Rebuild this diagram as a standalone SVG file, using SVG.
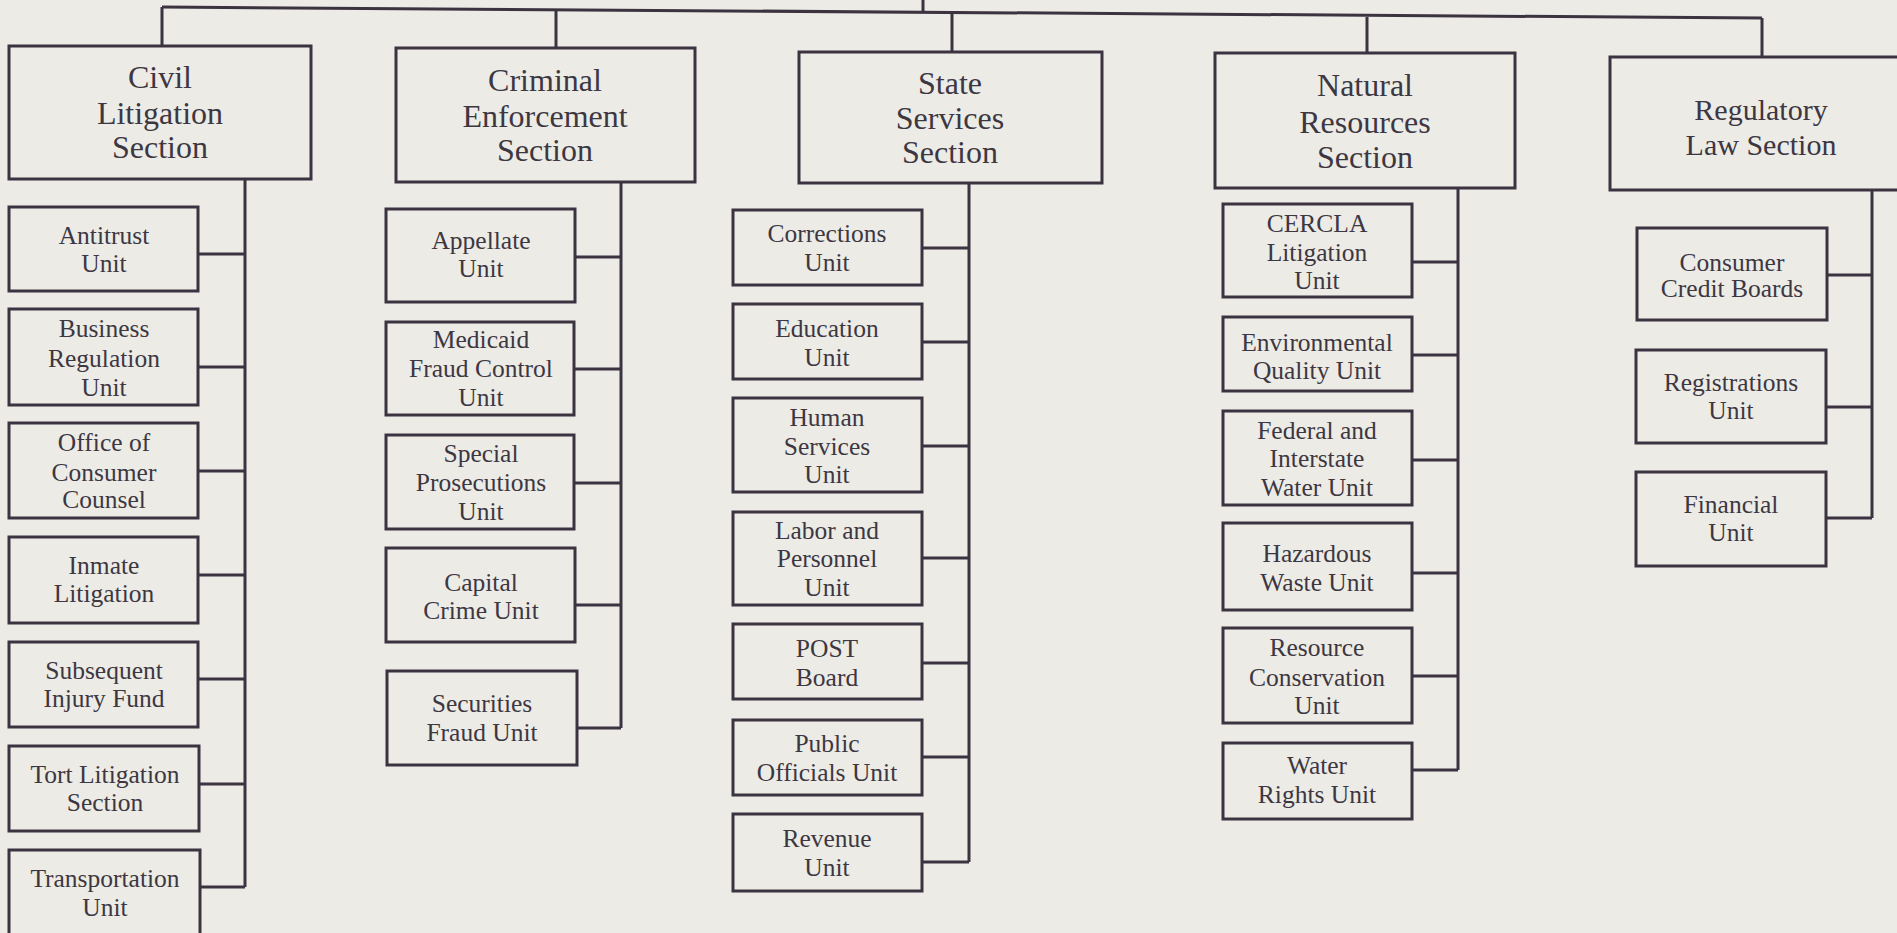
<svg xmlns="http://www.w3.org/2000/svg" width="1897" height="933" viewBox="0 0 1897 933">
<style>
.bg{fill:#ecebe6}
.box{fill:none;stroke:#3b3340;stroke-width:3}
.ln{fill:none;stroke:#3b3340;stroke-width:3}
text{font-family:"Liberation Serif","Times New Roman",serif;fill:#3d3742;text-anchor:middle}
.sec{font-size:32px}
.reg{font-size:30px}
.unit{font-size:25.5px}
</style>
<rect class="bg" x="0" y="0" width="1897" height="933"/>
<g id="connectors">
<path class="ln" d="M162,7 L1762,18"/>
<path class="ln" d="M923,0 V12"/>
<path class="ln" d="M162,7 V46"/>
<path class="ln" d="M556,10 V48"/>
<path class="ln" d="M952,13 V52"/>
<path class="ln" d="M1367,17 V53"/>
<path class="ln" d="M1762,18 V57"/>
<path class="ln" d="M245,179 V887 M198,254 H245 M198,367 H245 M198,471 H245 M198,575 H245 M198,679 H245 M198,784 H245 M200,887 H245"/>
<path class="ln" d="M621,182 V728 M575,257 H621 M574,369 H621 M574,483 H621 M575,605 H621 M577,728 H621"/>
<path class="ln" d="M969,183 V862 M922,248 H969 M922,342 H969 M922,446 H969 M922,558 H969 M922,663 H969 M922,757 H969 M922,862 H969"/>
<path class="ln" d="M1458,188 V770 M1412,262 H1458 M1412,355 H1458 M1412,460 H1458 M1412,573 H1458 M1412,676 H1458 M1412,770 H1458"/>
<path class="ln" d="M1872,190 V518 M1827,275 H1872 M1826,407 H1872 M1826,518 H1872"/>
</g>
<g id="civil"><rect class="box" x="9" y="46" width="302" height="133"/><text class="sec" x="160" y="88">Civil</text><text class="sec" x="160" y="124">Litigation</text><text class="sec" x="160" y="158">Section</text></g>
<g id="antitrust"><rect class="box" x="9" y="207" width="189" height="84"/><text class="unit" x="104" y="244">Antitrust</text><text class="unit" x="104" y="272">Unit</text></g>
<g id="business"><rect class="box" x="9" y="309" width="189" height="96"/><text class="unit" x="104" y="337">Business</text><text class="unit" x="104" y="367">Regulation</text><text class="unit" x="104" y="396">Unit</text></g>
<g id="office"><rect class="box" x="9" y="423" width="189" height="95"/><text class="unit" x="104" y="451">Office of</text><text class="unit" x="104" y="481">Consumer</text><text class="unit" x="104" y="508">Counsel</text></g>
<g id="inmate"><rect class="box" x="9" y="537" width="189" height="86"/><text class="unit" x="104" y="574">Inmate</text><text class="unit" x="104" y="602">Litigation</text></g>
<g id="subsequent"><rect class="box" x="9" y="642" width="189" height="85"/><text class="unit" x="104" y="679">Subsequent</text><text class="unit" x="104" y="707">Injury Fund</text></g>
<g id="tort"><rect class="box" x="9" y="746" width="190" height="85"/><text class="unit" x="105" y="783">Tort Litigation</text><text class="unit" x="105" y="811">Section</text></g>
<g id="transportation"><rect class="box" x="9" y="850" width="191" height="95"/><text class="unit" x="105" y="887">Transportation</text><text class="unit" x="105" y="916">Unit</text></g>
<g id="criminal"><rect class="box" x="396" y="48" width="299" height="134"/><text class="sec" x="545" y="91">Criminal</text><text class="sec" x="545" y="127">Enforcement</text><text class="sec" x="545" y="161">Section</text></g>
<g id="appellate"><rect class="box" x="386" y="209" width="189" height="93"/><text class="unit" x="481" y="249">Appellate</text><text class="unit" x="481" y="277">Unit</text></g>
<g id="medicaid"><rect class="box" x="386" y="322" width="188" height="93"/><text class="unit" x="481" y="348">Medicaid</text><text class="unit" x="481" y="377">Fraud Control</text><text class="unit" x="481" y="406">Unit</text></g>
<g id="special"><rect class="box" x="386" y="435" width="188" height="94"/><text class="unit" x="481" y="462">Special</text><text class="unit" x="481" y="491">Prosecutions</text><text class="unit" x="481" y="520">Unit</text></g>
<g id="capital"><rect class="box" x="386" y="548" width="189" height="94"/><text class="unit" x="481" y="591">Capital</text><text class="unit" x="481" y="619">Crime Unit</text></g>
<g id="securities"><rect class="box" x="387" y="671" width="190" height="94"/><text class="unit" x="482" y="712">Securities</text><text class="unit" x="482" y="741">Fraud Unit</text></g>
<g id="state"><rect class="box" x="799" y="52" width="303" height="131"/><text class="sec" x="950" y="94">State</text><text class="sec" x="950" y="129">Services</text><text class="sec" x="950" y="163">Section</text></g>
<g id="corrections"><rect class="box" x="733" y="210" width="189" height="75"/><text class="unit" x="827" y="242">Corrections</text><text class="unit" x="827" y="271">Unit</text></g>
<g id="education"><rect class="box" x="733" y="304" width="189" height="75"/><text class="unit" x="827" y="337">Education</text><text class="unit" x="827" y="366">Unit</text></g>
<g id="human"><rect class="box" x="733" y="398" width="189" height="94"/><text class="unit" x="827" y="426">Human</text><text class="unit" x="827" y="455">Services</text><text class="unit" x="827" y="483">Unit</text></g>
<g id="labor"><rect class="box" x="733" y="512" width="189" height="93"/><text class="unit" x="827" y="539">Labor and</text><text class="unit" x="827" y="567">Personnel</text><text class="unit" x="827" y="596">Unit</text></g>
<g id="post"><rect class="box" x="733" y="624" width="189" height="75"/><text class="unit" x="827" y="657">POST</text><text class="unit" x="827" y="686">Board</text></g>
<g id="public"><rect class="box" x="733" y="720" width="189" height="75"/><text class="unit" x="827" y="752">Public</text><text class="unit" x="827" y="781">Officials Unit</text></g>
<g id="revenue"><rect class="box" x="733" y="814" width="189" height="77"/><text class="unit" x="827" y="847">Revenue</text><text class="unit" x="827" y="876">Unit</text></g>
<g id="natural"><rect class="box" x="1215" y="53" width="300" height="135"/><text class="sec" x="1365" y="96">Natural</text><text class="sec" x="1365" y="133">Resources</text><text class="sec" x="1365" y="168">Section</text></g>
<g id="cercla"><rect class="box" x="1223" y="204" width="189" height="93"/><text class="unit" x="1317" y="232">CERCLA</text><text class="unit" x="1317" y="261">Litigation</text><text class="unit" x="1317" y="289">Unit</text></g>
<g id="environmental"><rect class="box" x="1223" y="317" width="189" height="74"/><text class="unit" x="1317" y="351">Environmental</text><text class="unit" x="1317" y="379">Quality Unit</text></g>
<g id="federal"><rect class="box" x="1223" y="411" width="189" height="94"/><text class="unit" x="1317" y="439">Federal and</text><text class="unit" x="1317" y="467">Interstate</text><text class="unit" x="1317" y="496">Water Unit</text></g>
<g id="hazardous"><rect class="box" x="1223" y="523" width="189" height="87"/><text class="unit" x="1317" y="562">Hazardous</text><text class="unit" x="1317" y="591">Waste Unit</text></g>
<g id="resource"><rect class="box" x="1223" y="628" width="189" height="95"/><text class="unit" x="1317" y="656">Resource</text><text class="unit" x="1317" y="686">Conservation</text><text class="unit" x="1317" y="714">Unit</text></g>
<g id="water"><rect class="box" x="1223" y="743" width="189" height="76"/><text class="unit" x="1317" y="774">Water</text><text class="unit" x="1317" y="803">Rights Unit</text></g>
<g id="regulatory"><rect class="box" x="1610" y="57" width="320" height="133"/><text class="reg" x="1761" y="120">Regulatory</text><text class="reg" x="1761" y="155">Law Section</text></g>
<g id="consumer"><rect class="box" x="1637" y="228" width="190" height="92"/><text class="unit" x="1732" y="271">Consumer</text><text class="unit" x="1732" y="297">Credit Boards</text></g>
<g id="registrations"><rect class="box" x="1636" y="350" width="190" height="93"/><text class="unit" x="1731" y="391">Registrations</text><text class="unit" x="1731" y="419">Unit</text></g>
<g id="financial"><rect class="box" x="1636" y="472" width="190" height="94"/><text class="unit" x="1731" y="513">Financial</text><text class="unit" x="1731" y="541">Unit</text></g>
</svg>
